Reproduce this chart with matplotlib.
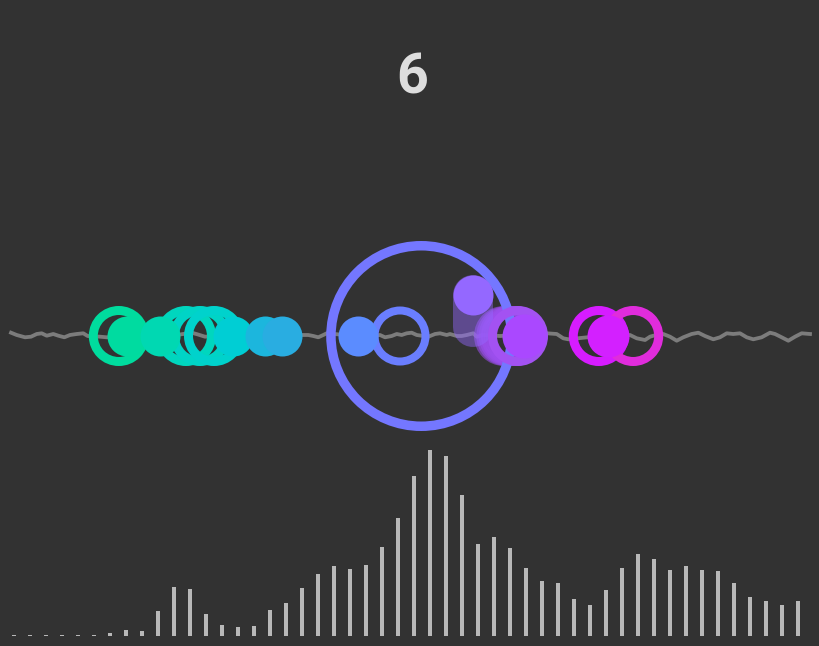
import numpy as np
import matplotlib
matplotlib.use("Agg")
import matplotlib.pyplot as plt

BG = "#323232"
DPI = 100

# frame number shown on top
step = "6"

# histogram, 50 bins of width 2 over 0..100
bin_counts = [0.3, 0.3, 0.3, 0.3, 0.3, 0.3, 0.8, 1.6, 1.3, 6.7,
              13.2, 12.6, 5.9, 3.0, 2.4, 2.7, 7.0, 8.9, 12.9, 16.7,
              18.8, 18.0, 19.1, 23.9, 31.7, 43.0, 50.0, 48.4, 37.9, 24.7,
              26.6, 23.7, 18.3, 14.8, 14.2, 9.9, 8.3, 12.4, 18.3, 22.0,
              20.7, 17.7, 18.8, 17.7, 17.5, 14.2, 10.5, 9.4, 8.3, 9.4]

# the wavy base line
line_x = [0.63, 1.34, 2.38, 3.13, 3.84, 4.46, 5.09, 5.91, 6.54, 7.29, 8.0, 8.84, 9.66, 10.21,
          11.75, 12.59, 15.5, 18.0, 20.5, 23.21, 24.0, 24.88, 28.0, 31.75, 34.88,
          36.96, 37.79, 38.41, 39.04, 39.66, 40.09, 42.38, 44.88,
          46.75, 47.38, 48.21, 48.84, 49.46, 50.09, 50.71, 51.34,
          52.79, 53.63, 54.25, 55.09, 55.5, 56.34, 56.96, 57.59, 58.41, 58.84, 59.63,
          61.75, 64.25, 66.13, 67.59, 68.84, 69.66, 70.29, 73.0, 75.75,
          78.0, 78.84, 79.88, 80.5, 81.25,
          82.16, 83.0, 83.84, 84.66, 85.71, 86.54, 87.38, 88.41, 89.25, 90.09, 90.91,
          91.75, 92.59, 93.41, 94.46, 95.5, 96.13, 96.96, 97.79, 98.63, 99.46, 100.5]
line_y = [0.33, 0.1, -0.13, -0.07, 0.2, 0.27, 0.03, 0.2, 0.03, -0.13, 0.1, 0.2, 0.27, 0.0,
          -0.07, -0.13, 0.1, 0.2, 0.0, 0.33, 0.15, -0.07, 0.1, 0.0, 0.2,
          0.1, 0.1, 0.0, -0.13, 0.1, 0.27, 0.1, 0.0,
          0.1, -0.13, 0.0, 0.2, 0.1, 0.27, 0.33, 0.1,
          -0.07, 0.2, 0.27, 0.1, 0.2, 0.0, 0.0, 0.1, 0.27, -0.07, 0.1,
          0.0, 0.1, 0.2, 0.27, 0.2, -0.23, -0.33, -0.1, 0.0,
          0.1, -0.23, -0.4, -0.07, 0.1,
          0.2, -0.07, -0.47, -0.13, 0.2, 0.33, 0.0, -0.33, -0.13, 0.27, 0.2,
          0.27, -0.13, -0.33, -0.13, 0.33, 0.2, -0.13, -0.47, -0.07, 0.27, 0.2]

# filled dots
dot_x = [15.1, 19.25, 28.4, 32.4, 34.5, 44.0, 58.4, 64.75, 75.25]
dot_y = [0, 0, 0, 0, 0, 0, 4.1, 0, 0]
dot_colors = ["#00dba0", "#00d8b2", "#00ced4", "#1cb6dd", "#29ade1",
              "#5b8cff", "#9468ff", "#aa48ff", "#d320ff"]

# rings
ring_x = [14.1, 22.5, 24.25, 26.0, 49.25, 51.9, 64.0, 74.1, 78.4]
ring_colors = ["#00dc9e", "#00d6be", "#00d4c6", "#00d2cc", "#6a7eff",
               "#7477ff", "#a352f2", "#d61cff", "#e02cdc"]

# where the two moving marks were one step before
moving_dot = 6          # index in dot lists
moving_dot_prev_y = 0.9
moving_ring = 6         # index in ring lists
moving_ring_prev_x = 62.25

# sizes in pixels (radius, ring thickness)
dot_r = [20, 20, 20, 20, 20, 20, 20, 22, 21]
ring_r = [30, 30, 30, 30, 29.5, 95, 30, 30, 30]
ring_w = [9, 9, 9, 9, 8, 9.5, 9, 9, 9]


def pt(px):
	return px * 72.0 / DPI


fig = plt.figure(figsize=(8.19, 6.46), dpi=DPI)
fig.patch.set_facecolor(BG)

XLIM = (-0.75, 101.625)

# ---- histogram at the bottom ----
hax = fig.add_axes([0, 10 / 646, 1, 196 / 646])
hax.set_facecolor(BG)
centers = np.arange(1, 100, 2)
hax.bar(centers, bin_counts, width=0.5, color="#b8b8b8", linewidth=0)
hax.set_xlim(*XLIM)
hax.set_ylim(0, 52.69)
hax.axis("off")

# ---- swarm in the middle ----
ax = fig.add_axes([0, 210 / 646, 1, 200 / 646])
ax.patch.set_alpha(0)
ax.set_xlim(*XLIM)
ax.set_ylim(-10, 10)
ax.axis("off")

ax.plot(line_x, line_y, color="#7c7c7c", lw=pt(3.8), solid_joinstyle="round", zorder=1, clip_on=False)

# motion trail of the ring (ghost copies, drawn smeared)
i = moving_ring
for gx in np.linspace(moving_ring_prev_x, ring_x[i], 7)[:-1]:
	rp = ring_r[i] - ring_w[i] / 2
	ax.scatter([gx], [0], s=(2 * pt(rp)) ** 2, facecolors="none", edgecolors="#9d4ff0",
	           linewidths=pt(ring_w[i]), alpha=0.55, zorder=2, clip_on=False)

# motion trail of the dot
j = moving_dot
ax.plot([dot_x[j], dot_x[j]], [moving_dot_prev_y, dot_y[j]], color=dot_colors[j],
        lw=pt(2 * dot_r[j]), solid_capstyle="round", alpha=0.45, zorder=2)

# rings
for k in range(len(ring_x)):
	rp = ring_r[k] - ring_w[k] / 2
	ax.scatter([ring_x[k]], [0], s=(2 * pt(rp)) ** 2, facecolors="none", edgecolors=ring_colors[k],
	           linewidths=pt(ring_w[k]), zorder=3 + k * 0.01, clip_on=False)

# dots on top
for k in range(len(dot_x)):
	ax.scatter([dot_x[k]], [dot_y[k]], s=(2 * pt(dot_r[k])) ** 2, c=dot_colors[k],
	           linewidths=0, zorder=4 + k * 0.01, clip_on=False)

fig.text(0.503, 1 - 78 / 646, step, ha="center", va="center", fontsize=40, fontweight="bold",
         color="#dddddd", family=["Roboto", "DejaVu Sans"])

fig.savefig("out.png", dpi=DPI, facecolor=BG)
